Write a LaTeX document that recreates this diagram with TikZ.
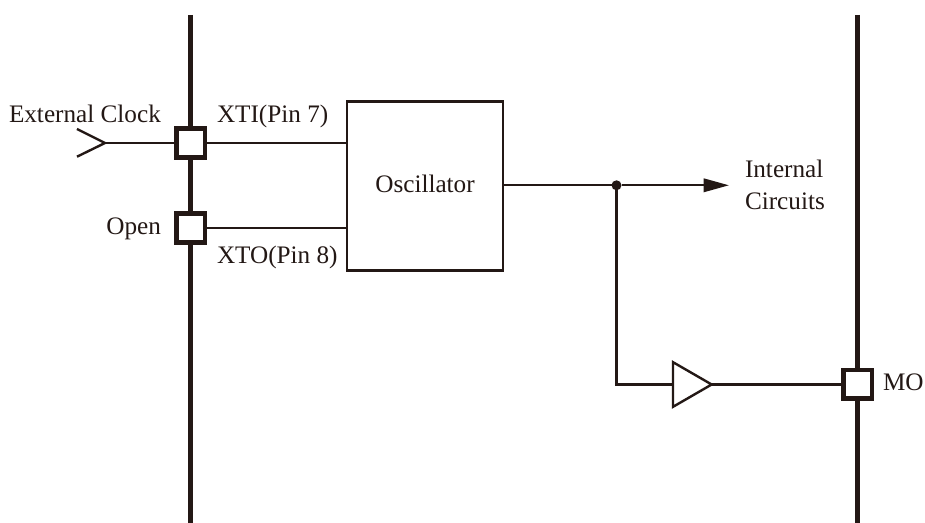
\documentclass[tikz,border=0pt]{standalone}
\usepackage{fontspec}
\setmainfont{Liberation Serif}
\usetikzlibrary{arrows.meta,shapes.geometric}
\definecolor{ink}{HTML}{231815}
\tikzset{
  x=0.75pt,y=-0.75pt,
  every node/.style={text=ink,font=\fontsize{18.9pt}{22pt}\selectfont,inner sep=0pt,outer sep=0pt},
  bus/.style={draw=ink,line width=3.4pt},
  wire/.style={draw=ink,line width=1.8pt},
  pad/.style={draw=ink,fill=white,line width=3.4pt,minimum size=21.4pt},
  block/.style={draw=ink,fill=white,line width=2.2pt,minimum width=117pt,minimum height=127pt},
  buffer/.style={draw=ink,fill=white,line width=1.8pt,isosceles triangle,isosceles triangle apex angle=60,minimum height=29pt,isosceles triangle stretches=false},
  junction/.style={circle,fill=ink,minimum size=7.5pt},
  lbl/.style={anchor=base west},
}
\begin{document}
\begin{tikzpicture}
\useasboundingbox[fill=white] (0,0) rectangle (925,523);
\coordinate (busAtop) at (190.5,15);
\coordinate (busAbot) at (190.5,523);
\coordinate (busBtop) at (857.5,15);
\coordinate (busBbot) at (857.5,523);
\draw[bus] (busAtop) -- (busAbot);
\draw[bus] (busBtop) -- (busBbot);
\node[pad] (xti) at (190.5,143) {};
\node[pad] (xto) at (190.5,228) {};
\node[pad] (mo) at (857.5,384.5) {};
\node[block] (osc) at (425,185.8) {};
\node[anchor=base] (osctext) at (425,193) {Oscillator};
\node[junction] (dot) at (616.5,185.3) {};
\node[buffer,anchor=lower side] (buf) at (673,384.5) {};
\coordinate (chevA) at (77,129);
\coordinate (chevTip) at (105,143);
\coordinate (chevB) at (77,156.7);
\coordinate (arrowEnd) at (729,185.3);
\draw[wire] (chevA) -- (chevTip) -- (chevB);
\draw[wire] (chevTip) -- (xti.west);
\draw[wire] (xti.east) -- (xti.east -| osc.west);
\draw[wire] (xto.east) -- (xto.east -| osc.west);
\draw[wire] (osc.east |- dot) -- (dot);
\draw[wire,-{Triangle[length=19pt,width=10pt]}] (dot) -- (arrowEnd);
\draw[wire] (dot) -- (dot |- buf.lower side) -- (buf.lower side);
\draw[wire] (buf.apex) -- (mo.west);
\node[lbl] (t1) at (9,122.5) {External Clock};
\node[lbl] (t2) at (217,122.5) {XTI(Pin 7)};
\node[anchor=base east] (t3) at (161,235) {Open};
\node[lbl] (t4) at (217,264) {XTO(Pin 8)};
\node[lbl] (t5) at (745,178) {Internal};
\node[lbl] (t6) at (745,209.5) {Circuits};
\node[lbl] (t7) at (883,391) {MO};
\end{tikzpicture}
\end{document}
